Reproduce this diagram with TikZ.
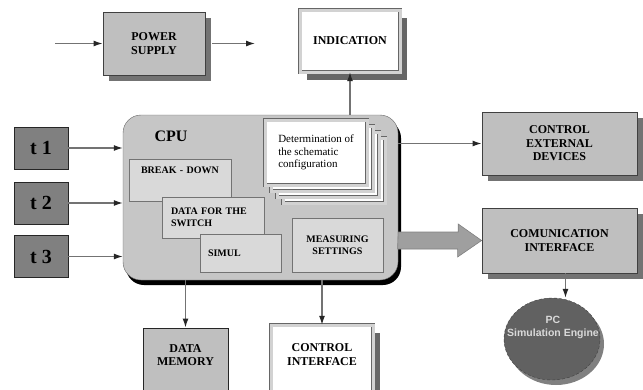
\documentclass[tikz,border=0pt]{standalone}
\usepackage{fontspec}
\setmainfont{Liberation Serif}
\newfontfamily\pcfont{Liberation Sans}
\usetikzlibrary{arrows.meta,shadows,shapes.geometric}

\tikzset{
  boxfont/.style={font=\fontsize{12}{13.5}\selectfont\bfseries, align=center},
  graybox/.style={boxfont, draw=black!75, line width=0.8pt, fill=gray!50, inner sep=0pt,
    drop shadow={shadow xshift=6pt, shadow yshift=-6pt, fill=black!55, opacity=1}},
  whitebox/.style={boxfont, draw=black!60, double=gray!35, double distance=3pt, fill=white, inner sep=0pt},
  boxshadow/.style={fill=black!60, inner sep=0pt},
  plainbox/.style={draw=black!85, line width=1pt, fill=gray!50},
  tbox/.style={draw=black!85, line width=0.8pt, fill=gray, minimum width=54pt, minimum height=42pt,
    font=\fontsize{20}{22}\selectfont\bfseries},
  cpubox/.style={draw=black!60, fill=gray!45, rounded corners=18pt,
    drop shadow={shadow xshift=3pt, shadow yshift=-5pt, fill=black, opacity=1}},
  subbox/.style={draw=black!55, fill=gray!30, font=\fontsize{10}{11.5}\selectfont\bfseries,
    align=left, inner ysep=0pt},
  pcnode/.style={ellipse, draw=black!75, densely dashed, fill=black!62,
    drop shadow={shadow xshift=4pt, shadow yshift=-5pt, fill=black!50, opacity=1}},
  pclabel/.style={font=\pcfont\fontsize{10.5}{13}\selectfont\bfseries, text=white!85!black, align=center},
  arr/.style={draw=black!55, line width=1.2pt, -{Latex[length=9pt,width=6pt,color=black!85]}},
  blockarr/.style={draw=black!50, fill=gray!75, line width=0.6pt},
}

\begin{document}
\begin{tikzpicture}[x=1pt,y=-1pt]
\useasboundingbox (0,0) rectangle (643,389);
\clip (0,0) rectangle (643,389);

% top row
\node[graybox, minimum width=102pt, minimum height=63pt] (pow) at (154,43.5) {POWER\\SUPPLY};
\node[boxshadow, minimum width=100pt, minimum height=62pt] (indshadow) at (357,49) {};
\node[whitebox, minimum width=100pt, minimum height=62pt] (ind) at (350,41) {INDICATION};
\coordinate (psin) at (55,43.5);
\coordinate (psout) at (255,43.5);
\draw[arr] (psin) -- (pow.west);
\draw[arr] ([xshift=7pt]pow.east) -- (psout);

% processor
\node[cpubox, minimum width=275pt, minimum height=165pt] (cpu) at (260.5,197.5) {};
\node[font=\fontsize{16}{18}\selectfont\bfseries] (cpuname) at (171,136) {CPU};

\node[subbox, minimum height=42pt, text width=78pt, inner xsep=12pt, text height=8pt, text depth=22pt] (brk) at (180,180) {BREAK - DOWN};
\node[subbox, minimum height=41pt, text width=84pt, inner xsep=9pt] (dsw) at (213,217.5) {DATA FOR THE\\SWITCH};
\node[subbox, minimum height=38pt, text width=65pt, inner xsep=8pt] (sim) at (240.5,253) {SIMUL};
\node[subbox, align=center, minimum width=91pt, minimum height=54pt] (mea) at (337.5,245) {MEASURING\\SETTINGS};

\foreach \d in {18,12,6}
  \node[whitebox, minimum width=102pt, minimum height=65pt] (det\d) at (316+\d,152.5+\d) {};
\node[whitebox, font=\fontsize{11}{12.5}\selectfont, align=left, minimum width=102pt, minimum height=65pt] (det) at (316,152.5) {Determination of\\the schematic\\configuration};

% inputs
\node[tbox] (t1) at (41,148) {t 1};
\node[tbox] (t2) at (41,203) {t 2};
\node[tbox] (t3) at (41,256.5) {t 3};
\draw[arr] (t1.east) -- (t1.east -| cpu.west);
\draw[arr] (t2.east) -- (t2.east -| cpu.west);
\draw[arr] (t3.east) -- (t3.east -| cpu.west);

% outputs
\node[graybox, minimum width=155pt, minimum height=63pt] (ext) at (559.5,143.5) {CONTROL\\EXTERNAL\\DEVICES};
\node[graybox, minimum width=155pt, minimum height=65pt] (com) at (559.5,240.5) {COMUNICATION\\INTERFACE};
\draw[arr] (cpu.east |- ext.west) -- (ext.west);
\draw[arr] (ind.south |- cpu.north) -- (ind.south);
\draw[blockarr] ([yshift=8.5pt]cpu.east |- com.west) -- ++(60,0) -- ++(0,-8) -- (com.west)
  -- ++(-24,16.5) -- ++(0,-8) -- ++(-60,0) -- cycle;

% bottom row
\node[plainbox, minimum width=85pt, minimum height=70pt] (mem) at (185.5,363) {};
\node[boxfont] (memtext) at (185.5,355) {DATA\\MEMORY};
\node[boxshadow, minimum width=102pt, minimum height=70pt] (ctlshadow) at (329,368) {};
\node[whitebox, minimum width=102pt, minimum height=70pt] (ctl) at (322,360) {};
\node[boxfont] (ctltext) at (322,354.5) {CONTROL\\INTERFACE};
\draw[arr] (mem.north |- cpu.south) -- (mem.north);
\draw[arr] (ctl.north |- cpu.south) -- (ctl.north);

\node[pcnode, minimum width=96pt, minimum height=82pt] (pc) at (552,339) {};
\node[pclabel] (pctext) at (553,327) {PC\\Simulation Engine};
\draw[arr] ([xshift=6pt]com.south) -- ([xshift=6pt]com.south |- pc.north);

\end{tikzpicture}
\end{document}
